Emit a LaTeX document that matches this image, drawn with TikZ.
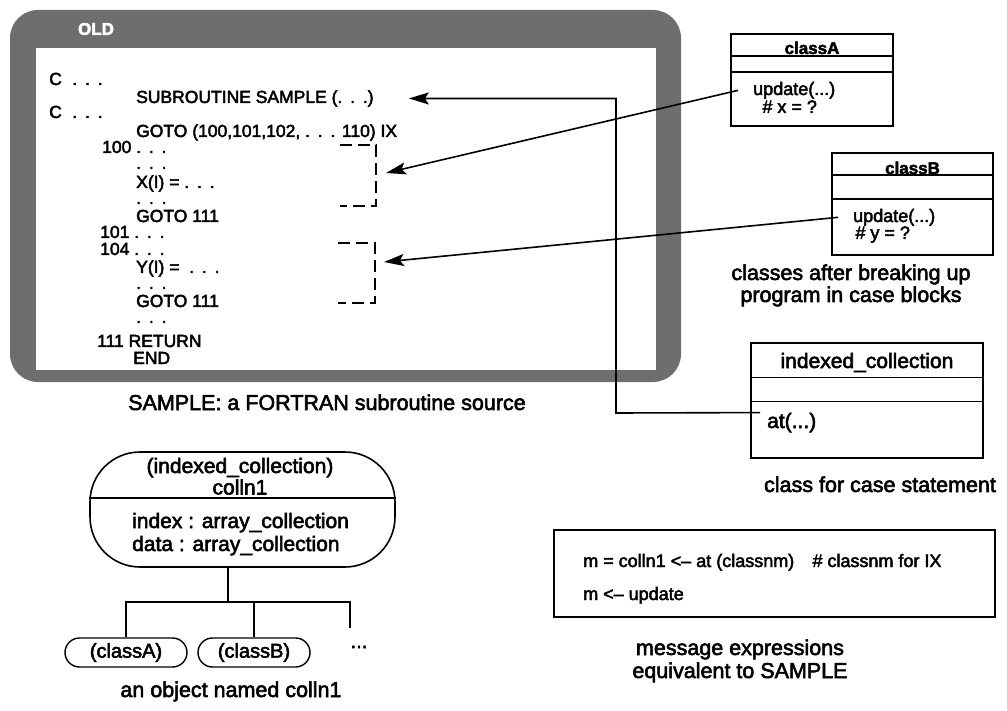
\documentclass[tikz,border=0pt]{standalone}
\usepackage{fontspec}
\setmainfont{Liberation Sans}[FakeBold=2.6]
\usepackage{xcolor}
\definecolor{dither}{HTML}{6E6E6E}
\usepackage{tikz}
\usetikzlibrary{arrows.meta,positioning,calc}
\newcommand{\codedots}{.\hspace{0.45em}.\hspace{0.45em}.}

\begin{document}
\begin{tikzpicture}[x=1pt,y=1pt,
  code/.style={anchor=base west,inner sep=0pt,font=\fontsize{17.5}{20}\selectfont},
  capline/.style={anchor=base,inner sep=0pt,font=\fontsize{21.5}{24}\selectfont},
  classbox/.style={draw,line width=1.6pt,inner sep=0pt},
  cname/.style={anchor=base,inner sep=0pt,font=\bfseries\fontsize{17}{20}\selectfont},
  meth/.style={anchor=base west,inner xsep=15pt,inner ysep=0pt,font=\fontsize{18}{20}\selectfont},
  attr/.style={anchor=base west,inner sep=0pt,font=\fontsize{21}{23}\selectfont},
  oval/.style={draw,line width=1.4pt,rounded corners=14.5pt,minimum height=29pt,inner sep=0pt,font=\fontsize{20}{22}\selectfont},
  msgline/.style={anchor=base west,inner sep=0pt,font=\fontsize{18}{20}\selectfont},
  link/.style={line width=1.4pt},
  arr/.style={-{Stealth[length=20pt,width=12pt,inset=4pt]},line width=1.6pt},
  bracket/.style={line width=1.6pt,dash pattern=on 12pt off 6pt}]
\useasboundingbox (0,0) rectangle (1007,-711);

% the OLD window
\fill[dither,rounded corners=28pt] (10,-10) rectangle (681,-382);
\fill[white] (36,-48) rectangle (656,-370);
\node[inner sep=0pt,font=\bfseries\fontsize{17}{20}\selectfont,text=white] (old) at (96,-29) {OLD};

% FORTRAN source
\node[code] (c1) at (49,-85) {C\hspace{0.6em}\codedots};
\node[code] (sub) at (136,-103) {SUBROUTINE SAMPLE (\codedots)};
\node[code] (c2) at (49,-118) {C\hspace{0.6em}\codedots};
\node[code] (gotoix) at (136,-137) {GOTO (100,101,102, \codedots{} 110) IX};
\node[code] (l100) at (102,-153) {100 \codedots};
\node[code] (d1) at (136,-169) {\codedots};
\node[code] (xi) at (136,-188) {X(I) = \codedots};
\node[code] (d2) at (136,-204) {\codedots};
\node[code] (goto1) at (136,-222) {GOTO 111};
\node[code] (l101) at (100,-238) {101 \codedots};
\node[code] (l104) at (100,-255) {104 \codedots};
\node[code] (yi) at (136,-273) {Y(I) = \ \codedots};
\node[code] (d3) at (136,-289) {\codedots};
\node[code] (goto2) at (136,-307) {GOTO 111};
\node[code] (d4) at (136,-323) {\codedots};
\node[code] (ret) at (97,-347) {111 RETURN};
\node[code] (fin) at (133,-364) {END};

\draw[bracket] (340,-145) -- (376,-145) -- (376,-206) -- (340,-206);
\draw[bracket] (338,-243) -- (375,-243) -- (375,-303) -- (338,-303);
\coordinate (blkX) at (386,-173);
\coordinate (blkY) at (384,-262);

\node[capline] (srccap) at (327,-410) {SAMPLE: a FORTRAN subroutine source};

% classes
\node[classbox,minimum width=162pt,minimum height=92pt] (clsA) at (812,-80) {};
\draw[link] ([yshift=-23pt]clsA.north west) -- ([yshift=-23pt]clsA.north east);
\draw[link] ([yshift=-39pt]clsA.north west) -- ([yshift=-39pt]clsA.north east);
\node[cname] (nameA) at (812,-54) {classA};
\node[meth] (updA) at (738,-95) {update(...)};
\node[meth,inner xsep=0pt] (hashA) at (762,-113) {\textit{\#} x = ?};

\node[classbox,minimum width=161pt,minimum height=102pt] (clsB) at (912.5,-204) {};
\draw[link] ([yshift=-23pt]clsB.north west) -- ([yshift=-23pt]clsB.north east);
\draw[link] ([yshift=-47pt]clsB.north west) -- ([yshift=-47pt]clsB.north east);
\node[cname] (nameB) at (912.5,-174) {classB};
\node[meth] (updB) at (838,-222) {update(...)};
\node[meth,inner xsep=0pt] (hashB) at (855,-239) {\textit{\#} y = ?};

\draw[arr] (updA.west) -- (blkX);
\draw[arr] (updB.west) -- (blkY);

\node[capline] (blkcap1) at (851,-280) {classes after breaking up};
\node[capline] (blkcap2) at (851,-302) {program in case blocks};

\node[classbox,minimum width=232pt,minimum height=115pt] (coll) at (867,-400.5) {};
\draw[link] ([yshift=-35pt]coll.north west) -- ([yshift=-35pt]coll.north east);
\draw[link] ([yshift=-59pt]coll.north west) -- ([yshift=-59pt]coll.north east);
\node[attr,anchor=base] (collname) at (867,-368) {indexed\_collection};
\node[attr,inner xsep=7pt] (atm) at (760,-428) {at(...)};
\coordinate (turn) at (616,-413);
\draw[arr] (atm.north west) -- (turn) |- ([xshift=35pt]sub.east);

\node[capline] (casecap) at (880,-492) {class for case statement};

% message expressions
\node[classbox,line width=1.4pt,minimum width=441pt,minimum height=87pt] (msg) at (774.5,-573.5) {};
\node[msgline] (msg1) at (583,-567) {m = colln1 <\textendash{} at (classnm)\quad\textit{\#} classnm for IX};
\node[msgline] (msg2) at (583,-600) {m <\textendash{} update};
\node[capline] (msgcap1) at (740,-655) {message expressions};
\node[capline] (msgcap2) at (740,-678) {equivalent to SAMPLE};

% object colln1
\node[draw,line width=1.6pt,rounded corners=50pt,minimum width=305pt,minimum height=115pt] (colln) at (242.5,-509.5) {};
\draw[link] ([yshift=11.5pt]colln.west) -- ([yshift=11.5pt]colln.east);
\node[attr,anchor=base] (objcls) at (240,-473) {(indexed\_collection)};
\node[attr,anchor=base] (objname) at (240,-494.5) {colln1};
\node[attr] (attr1) at (132,-528) {index : array\_collection};
\node[attr] (attr2) at (132,-551) {data : array\_collection};

\node[oval,minimum width=122pt] (ovA) at (126,-652.5) {(classA)};
\node[oval,minimum width=112pt] (ovB) at (254,-652.5) {(classB)};
\node[inner sep=0pt,font=\fontsize{20}{22}\selectfont] (more) at (359,-647) {...};
\coordinate (fork) at (228,-602);
\coordinate (stub) at (350,-628);
\draw[link] ([xshift=-14.5pt]colln.south) -- (fork);
\draw[link] (ovA.north) |- (fork) -| (stub);
\draw[link] (ovB.north) -- (ovB.north |- fork);

\node[capline] (objcap) at (231,-697) {an object named colln1};
\end{tikzpicture}
\end{document}
